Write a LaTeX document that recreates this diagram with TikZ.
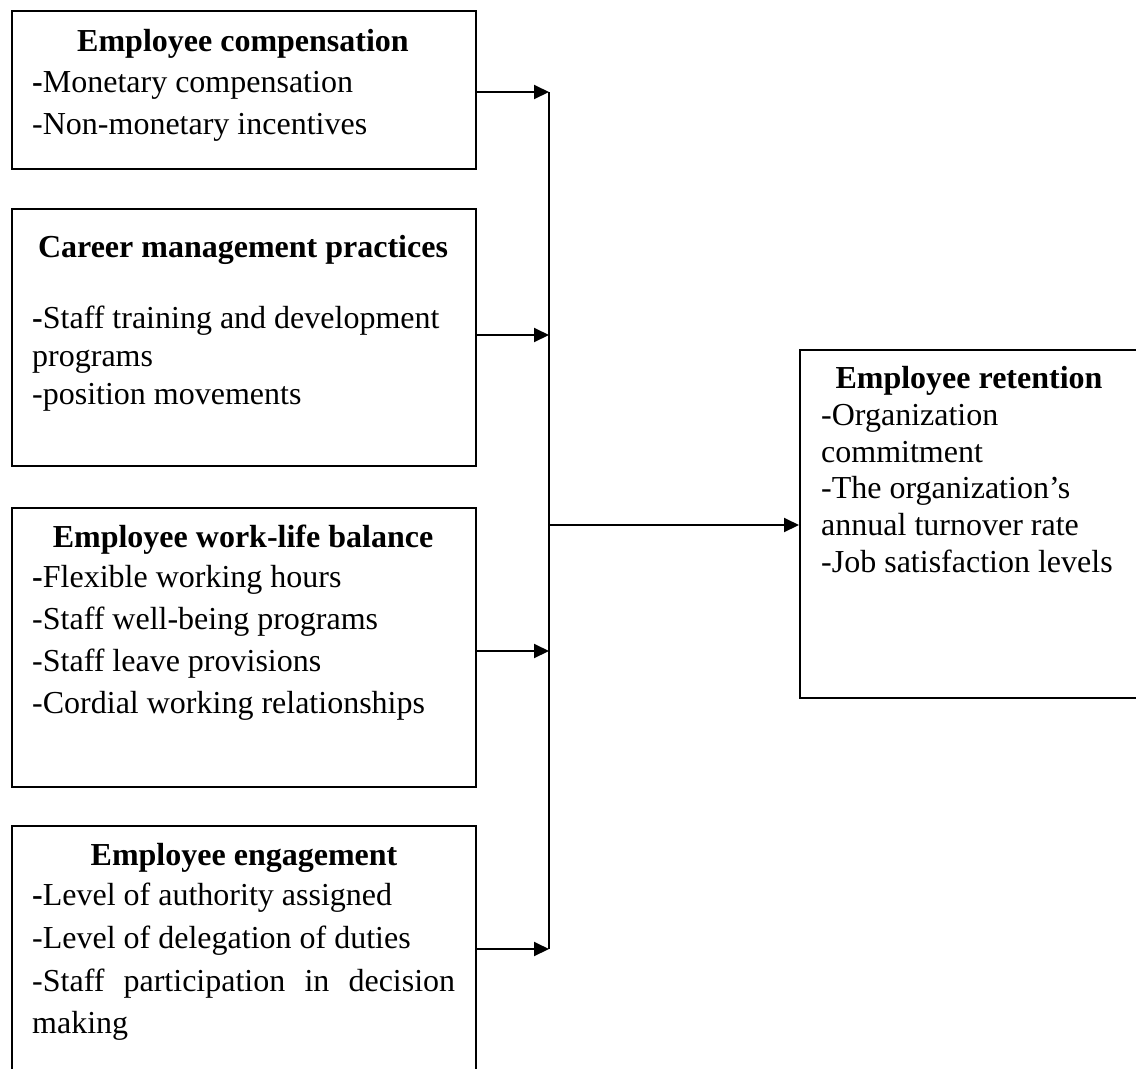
\documentclass[tikz,border=0pt]{standalone}
\usepackage{fontspec}
\setmainfont{Liberation Serif}
\usetikzlibrary{arrows.meta}
\tikzset{
  boxa/.style={draw, line width=2pt, anchor=north west, inner sep=0pt},
  ttl/.style={anchor=base, inner sep=0pt, font=\bfseries},
  itm/.style={anchor=base west, inner sep=0pt},
  conn/.style={line width=2pt},
  arr/.style={line width=2pt, -{Triangle[length=15pt,width=14pt]}}
}
\begin{document}
\begin{tikzpicture}[x=1pt,y=-1pt]
\useasboundingbox (0,0) rectangle (1136,1069);
\clip (0,0) rectangle (1136,1069);
\fontsize{32}{37}\selectfont
% boxes
\node[boxa, minimum width=464pt, minimum height=158pt] (b1) at (11,10) {};
\node[boxa, minimum width=464pt, minimum height=257pt] (b2) at (11,208) {};
\node[boxa, minimum width=464pt, minimum height=279pt] (b3) at (11,507) {};
\node[boxa, minimum width=464pt, minimum height=248pt] (b4) at (11,825) {};
\node[boxa, minimum width=346pt, minimum height=348pt] (r) at (799,349) {};
% box 1 text
\node[ttl] (t1) at (243,51) {Employee compensation};
\node[itm] (t1a) at (32,92) {\textbf{-}Monetary compensation};
\node[itm] (t1b) at (32,134) {-Non-monetary incentives};
% box 2 text
\node[ttl] (t2) at (243,257) {Career management practices};
\node[itm] (t2a) at (32,328) {\textbf{-}Staff training and development};
\node[itm] (t2b) at (32,366) {programs};
\node[itm] (t2c) at (32,404) {-position movements};
% box 3 text
\node[ttl] (t3) at (243,547) {Employee work-life balance};
\node[itm] (t3a) at (32,587) {\textbf{-}Flexible working hours};
\node[itm] (t3b) at (32,629) {-Staff well-being programs};
\node[itm] (t3c) at (32,671) {-Staff leave provisions};
\node[itm] (t3d) at (32,713) {-Cordial working relationships};
% box 4 text
\node[ttl] (t4) at (244,865) {Employee engagement};
\node[itm] (t4a) at (32,905) {\textbf{-}Level of authority assigned};
\node[itm] (t4b) at (32,948) {-Level of delegation of duties};
\node[itm] (t4c) at (32,991) {\hbox to 423pt{-Staff\hfill participation\hfill in\hfill decision}};
\node[itm] (t4d) at (32,1033) {making};
% right box text
\node[ttl] (tr) at (969,388) {Employee retention};
\node[itm] (tra) at (821,425) {-Organization};
\node[itm] (trb) at (821,462) {commitment};
\node[itm] (trc) at (821,498) {-The organization’s};
\node[itm] (trd) at (821,535) {annual turnover rate};
\node[itm] (tre) at (821,572) {-Job satisfaction levels};
% junction points
\coordinate (j1) at (549,92);
\coordinate (j2) at (549,335);
\coordinate (j3) at (549,651);
\coordinate (j4) at (549,949);
\coordinate (jm) at (549,525);
% connectors
\draw[arr] (b1.east |- j1) -- (j1);
\draw[arr] (b2.east |- j2) -- (j2);
\draw[arr] (b3.east |- j3) -- (j3);
\draw[arr] (b4.east |- j4) -- (j4);
\draw[conn] (j1) -- (j4);
\draw[arr] (jm) -- (r.west |- jm);
\end{tikzpicture}
\end{document}
